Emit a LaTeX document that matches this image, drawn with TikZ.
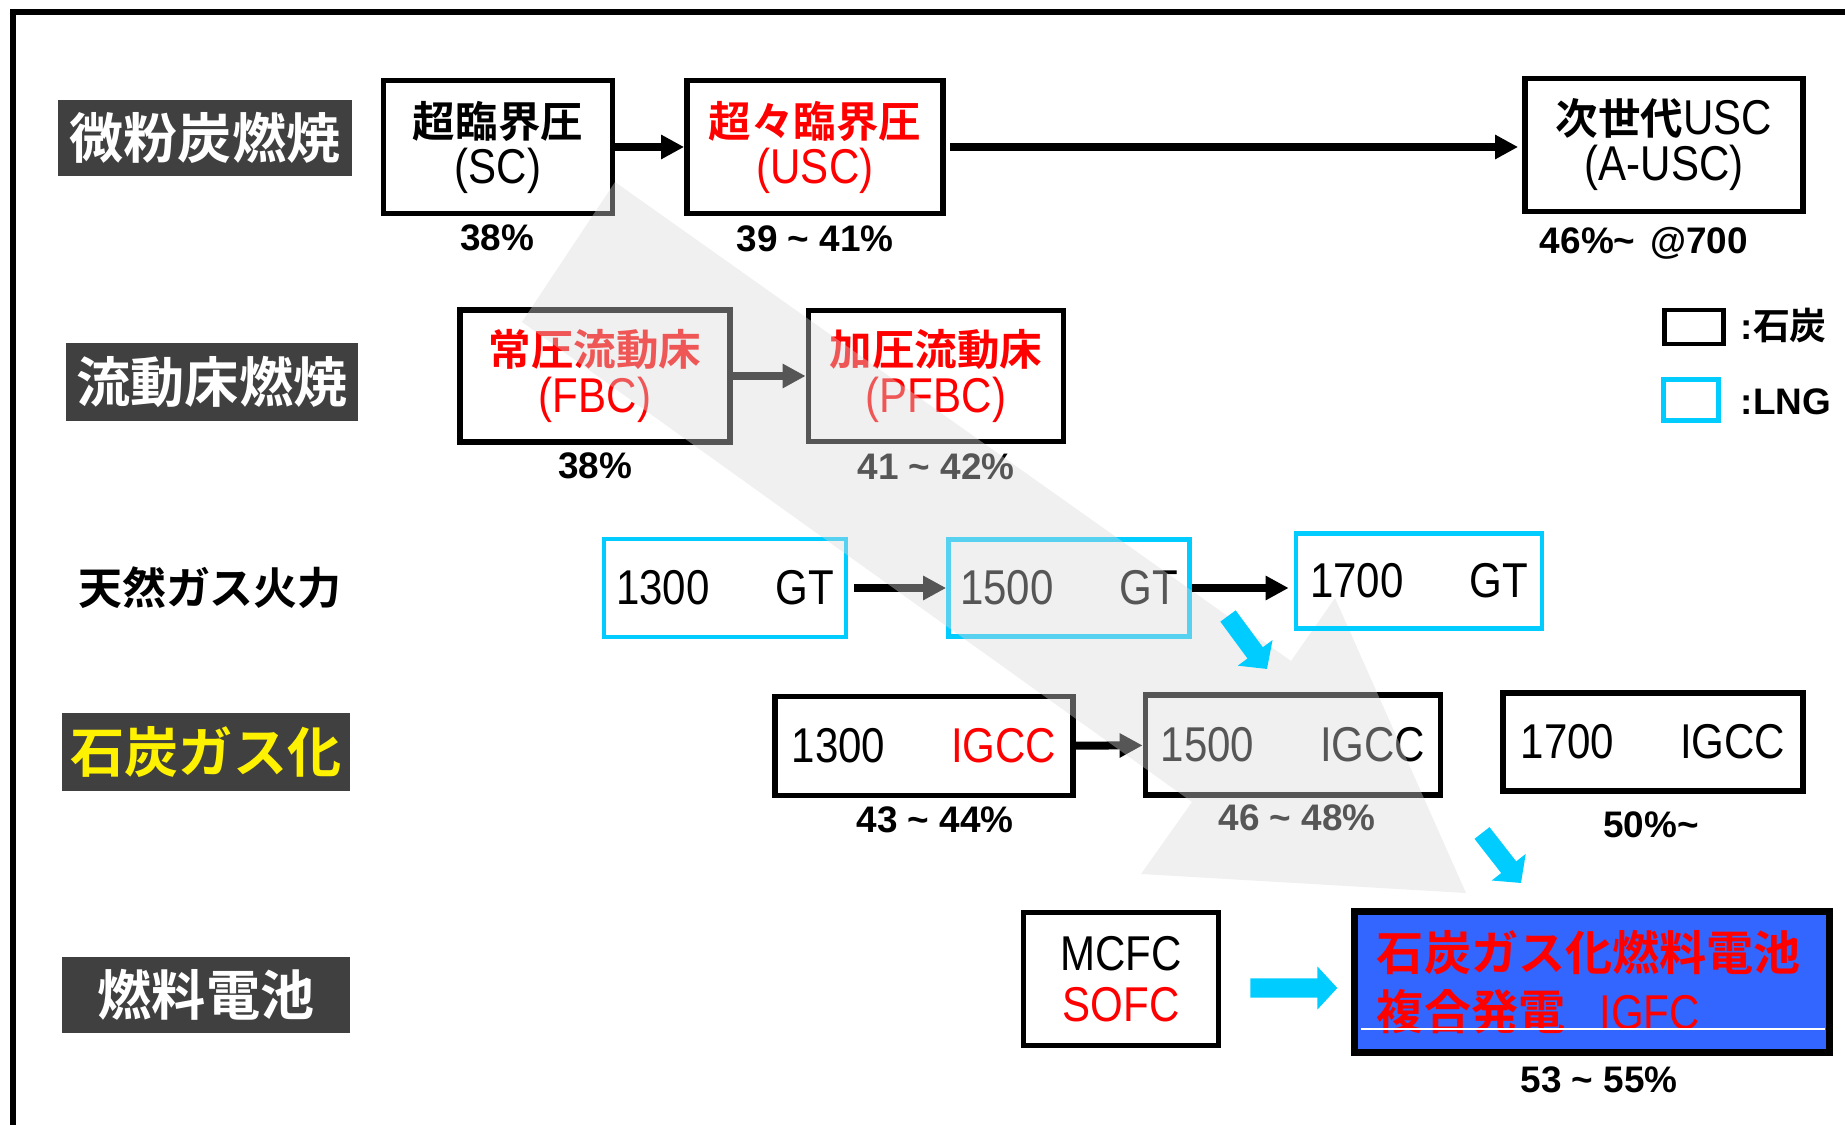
\documentclass[tikz,border=0pt]{standalone}
\usepackage{fontspec}
\setmainfont{Liberation Sans}
\newfontfamily\jpfont{Noto Sans CJK JP}[BoldFont={* Bold}]
\newfontfamily\nfont{Liberation Sans}[FakeStretch=0.86]
\usetikzlibrary{arrows.meta, positioning}

\definecolor{lngcyan}{RGB}{0,204,255}
\definecolor{igfcblue}{RGB}{51,102,255}
\definecolor{hdrgray}{RGB}{64,64,64}

\newcommand{\jp}[1]{{\jpfont\bfseries #1}}
\newcommand{\latn}[1]{{\nfont\fontsize{13.9}{13.1}\selectfont #1}}
\newcommand{\tgap}{\hspace{0.66cm}}

\begin{document}
\begin{tikzpicture}[x=0.01cm, y=-0.01cm,
  hdr/.style={fill=hdrgray, text=white, inner sep=0pt, font=\jpfont\bfseries\fontsize{15.4}{16}\selectfont},
  coalbox/.style={draw, line width=1.6pt, inner sep=0pt, align=center, font=\fontsize{12.1}{13.1}\selectfont},
  lngbox/.style={coalbox, draw=lngcyan, line width=1.3pt},
  num/.style={font=\nfont\fontsize{13.9}{13.1}\selectfont},
  pct/.style={font=\bfseries\fontsize{10.5}{12}\selectfont},
  arr/.style={line width=0.08cm, -{Triangle[length=0.23cm, width=0.23cm]}},
  bluearr/.style={draw=lngcyan, line width=0.19cm, -{Triangle[length=0.2cm, width=0.42cm]}},
  bigarr/.style={fill=black!15, fill opacity=0.4}]

  \useasboundingbox (0,0) rectangle (1845,1125);
  \draw[line width=0.055cm] (13,1125) -- (13,12) -- (1845,12);

  % row headers
  \node[hdr, minimum width=2.93cm, minimum height=0.76cm] (h1) at (205,138) {微粉炭燃焼};
  \node[hdr, minimum width=2.92cm, minimum height=0.77cm] (h2) at (212,382) {流動床燃焼};
  \node[font=\jpfont\bfseries\fontsize{12.5}{13}\selectfont] (h3) at (210,588) {天然ガス火力};
  \node[hdr, text=yellow, minimum width=2.87cm, minimum height=0.77cm] (h4) at (206,752) {石炭ガス化};
  \node[hdr, minimum width=2.87cm, minimum height=0.76cm] (h5) at (206,995) {燃料電池};

  % coal fired
  \node[coalbox, minimum width=2.29cm, minimum height=1.33cm] (sc) at (498,147) {\jp{超臨界圧}\\\latn{(SC)}};
  \node[coalbox, text=red, minimum width=2.56cm, minimum height=1.33cm] (usc) at (815,147) {\jp{超々臨界圧}\\\latn{(USC)}};
  \node[coalbox, minimum width=2.78cm, minimum height=1.33cm] (ausc) at (1664,145) {\jp{次世代}\latn{USC}\\\latn{(A-USC)}};
  \node[coalbox, text=red, minimum width=2.70cm, minimum height=1.32cm] (fbc) at (595,376) {\jp{常圧流動床}\\\latn{(FBC)}};
  \node[coalbox, text=red, minimum width=2.55cm, minimum height=1.31cm] (pfbc) at (936,376) {\jp{加圧流動床}\\\latn{(PFBC)}};

  % gas turbines and IGCC
  \node[lngbox, num, minimum width=2.42cm, minimum height=0.98cm] (gt13) at (725,588) {1300\tgap GT};
  \node[lngbox, num, minimum width=2.41cm, minimum height=0.97cm] (gt15) at (1069,588) {1500\tgap GT};
  \node[coalbox, num, minimum width=2.98cm, minimum height=0.99cm] (igcc13) at (924,746) {1300\tgap\textcolor{red}{IGCC}};
  \node[coalbox, num, minimum width=2.95cm, minimum height=1.00cm] (igcc15) at (1293,745) {1500\tgap IGCC};
  \node[coalbox, num, minimum width=3.00cm, minimum height=0.98cm] (igcc17) at (1653,742) {1700\tgap IGCC};

  % fuel cells
  \node[coalbox, minimum width=1.95cm, minimum height=1.33cm, font=\nfont\fontsize{13.9}{14.5}\selectfont] (fc) at (1121,979) {MCFC\\\textcolor{red}{SOFC}};
  \node[coalbox, line width=0.07cm, fill=igfcblue, text=red, minimum height=1.41cm, text width=4.3cm, inner xsep=0.22cm, align=left, font=\fontsize{13.4}{16.8}\selectfont] (igfc) at (1592,982) {\jp{石炭ガス化燃料電池}\\\jp{複合発電}\hspace{0.34cm}\latn{IGFC}};
  \draw[white, line width=0.5pt] (1361,1029) -- (1825,1029);

  % efficiencies
  \node[pct] (p1) at (497,238) {38\%};
  \node[pct] (p2) at (815,239) {39 \textasciitilde\ 41\%};
  \node[pct] (p3) at (1644,243) {46\%\textasciitilde\hspace{0.15cm}@700};
  \node[pct] (p4) at (595,466) {38\%};
  \node[pct] (p5) at (936,467) {41 \textasciitilde\ 42\%};
  \node[pct] (p6) at (935,820) {43 \textasciitilde\ 44\%};
  \node[pct] (p7) at (1297,818) {46 \textasciitilde\ 48\%};
  \node[pct] (p8) at (1651,825) {50\%\textasciitilde};
  \node[pct] (p9) at (1599,1080) {53 \textasciitilde\ 55\%};

  \draw[arr] (sc) -- (usc);
  \draw[arr, shorten <=0.04cm, shorten >=0.04cm] (usc.east) -- (usc.east -| ausc.west);
  \draw[arr] (fbc) -- (pfbc);
  \draw[arr, shorten <=0.06cm] (gt13) -- (gt15);
  \draw[arr] (igcc13) -- (igcc15);

  % big translucent arrow
  \fill[bigarr] (615,182) -- (1291,661) -- (1335,598) -- (1466,893) -- (1141,874) -- (1192,802) -- (522,322) -- cycle;

  \node[lngbox, num, minimum width=2.46cm, minimum height=0.95cm] (gt17) at (1419,581) {1700\tgap GT};
  \draw[arr, shorten >=0.05cm] (gt15.east) -- (gt15.east -| gt17.west);

  % blue arrows
  \coordinate (b1s) at (1228,616);
  \coordinate (b1e) at (1267,669);
  \coordinate (b2s) at (1482,833);
  \coordinate (b2e) at (1521,883);
  \draw[bluearr] (b1s) -- (b1e);
  \draw[bluearr] (b2s) -- (b2e);
  \draw[bluearr, shorten <=0.29cm, shorten >=0.14cm] ([yshift=-0.09cm]fc.east) -- ([yshift=-0.06cm]igfc.west);

  % legend
  \node[draw, line width=1.3pt, minimum width=0.59cm, minimum height=0.34cm, inner sep=0pt] (lgcoal) at (1694,327) {};
  \node[pct, anchor=west, inner sep=0pt] (lgcoalt) at (1740,326) {:\jp{石炭}};
  \node[draw=lngcyan, line width=1.3pt, minimum width=0.55cm, minimum height=0.41cm, inner sep=0pt] (lglng) at (1691,400) {};
  \node[pct, anchor=west, inner sep=0pt] (lglngt) at (1740,402) {:LNG};
\end{tikzpicture}
\end{document}
